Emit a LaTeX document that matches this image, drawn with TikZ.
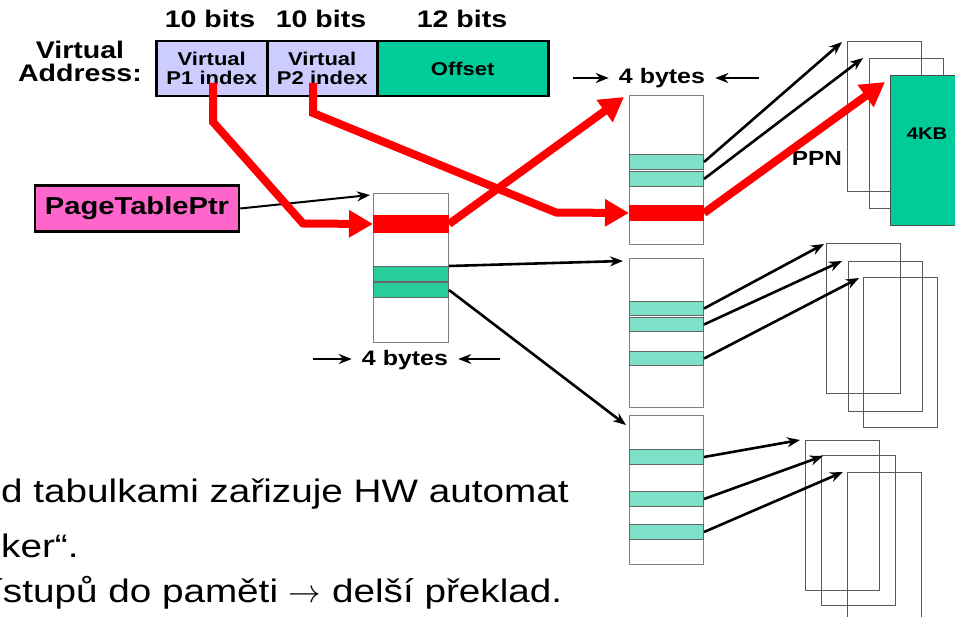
\RequirePackage{fix-cm}
\documentclass[tikz,border=0pt]{standalone}
\usepackage{fontspec}
\setmainfont{Liberation Sans}[FakeStretch=1.19]
\usetikzlibrary{arrows.meta}

\definecolor{lavender}{RGB}{204,204,255}
\definecolor{offgreen}{RGB}{0,204,153}
\definecolor{ptedark}{RGB}{40,205,155}
\definecolor{ptelight}{RGB}{125,225,200}
\definecolor{ptrpink}{RGB}{255,102,204}

\begin{document}
\begin{tikzpicture}[x=1pt, y=-1pt, >={Stealth[length=13pt,width=10pt]},
  bits/.style={font=\fontsize{24}{26}\selectfont\bfseries, inner sep=0pt, anchor=base},
  field/.style={draw, line width=2.5pt, fill=lavender, minimum height=55pt, inner sep=0pt, anchor=north west, align=center, font=\fontsize{18.5}{19}\selectfont\bfseries},
  tbl/.style={draw=black!50, line width=1.2pt, minimum width=74pt, minimum height=149pt, inner sep=0pt, anchor=north west},
  pte/.style={draw=black!60, line width=1pt, fill=ptelight, minimum width=74pt, minimum height=15pt, inner sep=0pt, anchor=north west},
  hot/.style={pte, fill=red, draw=red},
  pagebox/.style={draw=black!65, line width=1.3pt, minimum width=74pt, minimum height=150pt, inner sep=0pt, anchor=north west},
  lbl/.style={font=\fontsize{21}{23}\selectfont\bfseries, inner sep=0pt},
  arr/.style={->, line width=2.6pt},
  wid/.style={->, line width=2.4pt, shorten >=10pt},
  redarr/.style={-{Triangle[length=24pt,width=26pt]}, red, line width=8pt},
  note/.style={font=\fontsize{32.5}{36}\selectfont, inner sep=0pt, anchor=base west}]
  \useasboundingbox (0,0) rectangle (955,617);
  \clip (0,0) rectangle (955,617);

  % virtual address
  \node[font=\fontsize{24}{23}\selectfont\bfseries, align=center] (va) at (80,61) {Virtual\\Address:};
  \node[bits] (b1) at (210,28) {10 bits};
  \node[bits] (b2) at (321,28) {10 bits};
  \node[bits] (b3) at (462,28) {12 bits};
  \node[field, minimum width=111pt] (p1) at (155,40) {Virtual\\P1 index};
  \node[field, minimum width=110pt] (p2) at (266,40) {Virtual\\P2 index};
  \node[field, minimum width=171pt, fill=offgreen] (off) at (376,40) {Offset};

  \node[draw, line width=2.5pt, fill=ptrpink, minimum width=204pt, minimum height=46pt, font=\fontsize{24.5}{26}\selectfont\bfseries] (ptr) at (137,208.5) {PageTablePtr};

  % first level table
  \node[tbl, minimum width=75pt] (t1) at (373,193) {};
  \node[hot, minimum width=75pt, minimum height=17pt] (t1r) at (373,215) {};
  \node[pte, minimum width=75pt, fill=ptedark] (t1g1) at (373,266) {};
  \node[pte, minimum width=75pt, fill=ptedark] (t1g2) at (373,282) {};
  \node[lbl, anchor=base] (w1) at (405,365) {4 bytes};

  % second level tables
  \node[tbl] (t2a) at (629,95) {};
  \node[pte] (t2ag1) at (629,154) {};
  \node[pte] (t2ag2) at (629,171) {};
  \node[hot] (t2ar) at (629,205) {};
  \node[lbl, anchor=base] (w2) at (662,84) {4 bytes};

  \node[tbl] (t2b) at (629,258) {};
  \node[pte, minimum height=14pt] (t2bg1) at (629,301) {};
  \node[pte, minimum height=14pt] (t2bg2) at (629,317) {};
  \node[pte, minimum height=14pt] (t2bg3) at (629,351) {};

  \node[tbl] (t3) at (629,415) {};
  \node[pte] (t3g1) at (629,449) {};
  \node[pte] (t3g2) at (629,491) {};
  \node[pte] (t3g3) at (629,524) {};

  % pages
  \node[pagebox] (pg1a) at (847,41) {};
  \node[pagebox] (pg1b) at (869,58) {};
  \node[pagebox, fill=offgreen, draw=black!70] (pg1c) at (890,75) {};
  \node[font=\fontsize{17}{19}\selectfont\bfseries] (kb) at (927,134) {4KB};
  \node[lbl, font=\fontsize{20.5}{22}\selectfont\bfseries] (ppn) at (817,158) {PPN};

  \node[pagebox] (pg2a) at (826,243) {};
  \node[pagebox] (pg2b) at (848,261) {};
  \node[pagebox] (pg2c) at (863,277) {};

  \node[pagebox] (pg3a) at (805,440) {};
  \node[pagebox] (pg3b) at (821,455) {};
  \node[pagebox] (pg3c) at (847,472) {};

  % entry width markers
  \coordinate (w1l) at (313,359);
  \coordinate (w1r) at (500,359);
  \coordinate (w2l) at (573,78);
  \coordinate (w2r) at (759,78);
  \draw[wid] (w1l) -- (w1l -| w1.west);
  \draw[wid] (w1r) -- (w1r -| w1.east);
  \draw[wid] (w2l) -- (w2l -| w2.west);
  \draw[wid] (w2r) -- (w2r -| w2.east);

  % black pointers
  \draw[arr, line width=2pt] (ptr.east) -- ([shift={(-3,2)}]t1.north west);
  \draw[arr] (t1g1.north east) -- ([shift={(-6,3)}]t2b.north west);
  \draw[arr] (t1g2.east) -- ([shift={(-3,10)}]t3.north west);
  \draw[arr] (t2ag1.east) -- ([shift={(-5,1)}]pg1a.north west);
  \draw[arr] (t2ag2.east) -- ([shift={(-6,0)}]pg1b.north west);
  \draw[arr] (t2bg1.east) -- ([shift={(-2,1)}]pg2a.north west);
  \draw[arr] (t2bg2.east) -- ([shift={(-6,0)}]pg2b.north west);
  \draw[arr] (t2bg3.east) -- ([shift={(-4,1)}]pg2c.north west);
  \draw[arr] (t3g1.east) -- ([shift={(-5,0)}]pg3a.north west);
  \draw[arr] (t3g2.east) -- ([shift={(2,1)}]pg3b.north west);
  \draw[arr] (t3g3.east) -- ([shift={(-4,0)}]pg3c.north west);

  % translation path
  \coordinate (s1) at (213,83);
  \coordinate (k1) at (213,122);
  \coordinate (k2) at (303,223.5);
  \coordinate (s2) at (313,83);
  \coordinate (k3) at (313,113);
  \coordinate (k4) at (556,212.5);
  \draw[redarr] (s1) -- (k1) -- (k2) -- (t1r.west);
  \draw[redarr] (s2) -- (k3) -- (k4) -- (t2ar.west);
  \draw[redarr] (t1r.east) -- ([shift={(-5,2)}]t2a.north west);
  \draw[redarr] (t2ar.east) -- ([shift={(-5,7)}]pg1c.north west);

  % slide text
  \node[note] (n1) at (1,502) {d tabulkami zařizuje HW automat};
  \node[note] (n2) at (1,557) {ker“.};
  \node[note] (n3) at (-8,602) {ístupů do paměti $\rightarrow$ delší překlad.};
\end{tikzpicture}
\end{document}
